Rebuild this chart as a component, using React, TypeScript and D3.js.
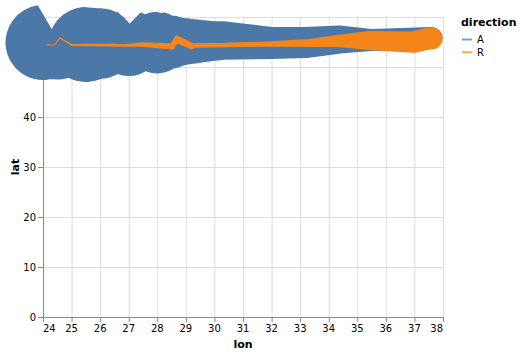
import React, { useRef, useEffect } from 'react';
import * as d3 from 'd3';

// Minard troop movements (lon, lat, survivors, direction, group)
const lonValues = [
  24.0, 24.5, 25.5, 26.0, 27.0, 28.0, 28.5, 29.0, 30.0, 30.3, 32.0, 33.2, 34.4, 35.5, 36.0, 37.6,
  37.6, 37.5, 37.0, 36.8, 35.4, 34.3, 33.3, 32.0, 30.4, 29.2, 28.5, 28.3, 27.5, 26.8, 26.4, 25.0, 24.4, 24.2, 24.1,
  24.0, 24.5, 25.5, 26.6, 27.4, 28.7, 29.2, 28.5, 28.3,
  24.0, 24.5, 24.6, 24.6, 24.2, 24.1,
];
const latValues = [
  54.9, 55.0, 54.5, 54.7, 54.8, 54.9, 55.0, 55.1, 55.2, 55.3, 54.8, 54.9, 55.5, 55.4, 55.5, 55.8,
  55.7, 55.7, 55.0, 55.0, 55.3, 55.2, 54.8, 54.6, 54.4, 54.3, 54.2, 54.3, 54.5, 54.3, 54.4, 54.4, 54.4, 54.4, 54.4,
  55.1, 55.2, 54.7, 55.7, 55.6, 55.5, 54.2, 54.1, 54.2,
  55.2, 55.3, 55.8, 55.8, 54.4, 54.4,
];
const survivorValues = [
  340000, 340000, 340000, 320000, 300000, 280000, 240000, 210000, 180000, 175000, 145000, 140000, 127100, 100000, 100000, 100000,
  100000, 98000, 97000, 96000, 87000, 55000, 37000, 24000, 20000, 20000, 20000, 20000, 20000, 12000, 14000, 8000, 4000, 4000, 4000,
  60000, 60000, 60000, 40000, 33000, 33000, 30000, 30000, 28000,
  22000, 22000, 6000, 6000, 6000, 6000,
];
const directionValues = [
  'A', 'A', 'A', 'A', 'A', 'A', 'A', 'A', 'A', 'A', 'A', 'A', 'A', 'A', 'A', 'A',
  'R', 'R', 'R', 'R', 'R', 'R', 'R', 'R', 'R', 'R', 'R', 'R', 'R', 'R', 'R', 'R', 'R', 'R', 'R',
  'A', 'A', 'A', 'A', 'A', 'R', 'R', 'R', 'R',
  'A', 'A', 'A', 'R', 'R', 'R',
];
const groupValues = [
  1, 1, 1, 1, 1, 1, 1, 1, 1, 1, 1, 1, 1, 1, 1, 1,
  1, 1, 1, 1, 1, 1, 1, 1, 1, 1, 1, 1, 1, 1, 1, 1, 1, 1, 1,
  2, 2, 2, 2, 2, 2, 2, 2, 2,
  3, 3, 3, 3, 3, 3,
];
const directions = ['A', 'R'];
const colors = ['#4c78a8', '#f58518'];

// same path as vega's trail mark
function trailPath(pts: { x: number; y: number; w: number }[]) {
  const p = d3.path();
  let x1 = 0, y1 = 0, r1 = 0;
  pts.forEach((pt, i) => {
    const r2 = pt.w / 2;
    if (i > 0) {
      let ux = y1 - pt.y, uy = pt.x - x1;
      if (ux || uy) {
        const ud = Math.hypot(ux, uy);
        ux /= ud;
        uy /= ud;
        const rx = ux * r1, ry = uy * r1, t = Math.atan2(uy, ux);
        p.moveTo(x1 - rx, y1 - ry);
        p.lineTo(pt.x - ux * r2, pt.y - uy * r2);
        p.arc(pt.x, pt.y, r2, t - Math.PI, t);
        p.lineTo(x1 + rx, y1 + ry);
        p.arc(x1, y1, r1, t, t + Math.PI);
      } else {
        p.moveTo(pt.x + r2, pt.y);
        p.arc(pt.x, pt.y, r2, 0, 2 * Math.PI);
      }
      p.closePath();
    }
    x1 = pt.x;
    y1 = pt.y;
    r1 = r2;
  });
  return p.toString();
}

const App: React.FC = () => {
  const svgRef = useRef<SVGSVGElement | null>(null);

  useEffect(() => {
    const width = 400, height = 300;
    const marginLeft = 43, marginTop = 17;
    const font = 'DejaVu Sans, sans-serif';
    const svg = d3.select(svgRef.current);
    svg.selectAll('*').remove();

    const g = svg.append('g').attr('transform', `translate(${marginLeft},${marginTop})`);

    const x = d3.scaleLinear().domain([24, 38]).range([0, width]);
    const y = d3.scaleLinear().domain([0, 60]).range([height, 0]);
    const size = d3.scaleLinear().domain([0, 340000]).range([0, 75]);

    const xTicks = d3.range(24, 39, 1);
    const yTicks = d3.range(0, 61, 10);

    // grid
    g.append('g').selectAll('line').data(xTicks).join('line')
      .attr('x1', d => x(d) + 0.5).attr('x2', d => x(d) + 0.5)
      .attr('y1', 0).attr('y2', height)
      .attr('stroke', '#ddd');
    g.append('g').selectAll('line').data(yTicks).join('line')
      .attr('x1', 0).attr('x2', width)
      .attr('y1', d => y(d) + 0.5).attr('y2', d => y(d) + 0.5)
      .attr('stroke', '#ddd');

    // x axis
    const xa = g.append('g').attr('transform', `translate(0,${height})`);
    xa.append('line').attr('x1', 0.5).attr('x2', width + 0.5).attr('y1', 0.5).attr('y2', 0.5).attr('stroke', '#888');
    xa.selectAll('line.tick').data(xTicks).join('line').attr('class', 'tick')
      .attr('x1', d => x(d) + 0.5).attr('x2', d => x(d) + 0.5)
      .attr('y1', 0).attr('y2', 5).attr('stroke', '#888');
    xa.selectAll('text').data(xTicks).join('text')
      .attr('x', d => x(d))
      .attr('y', 15)
      .attr('text-anchor', (d, i) => (i === 0 ? 'start' : i === xTicks.length - 1 ? 'end' : 'middle'))
      .attr('font-family', font).attr('font-size', 10).attr('fill', '#000')
      .text(d => d);
    xa.append('text').attr('x', width / 2).attr('y', 31)
      .attr('text-anchor', 'middle').attr('font-family', font).attr('font-size', 11).attr('font-weight', 'bold')
      .text('lon');

    // y axis
    const ya = g.append('g');
    ya.append('line').attr('x1', 0.5).attr('x2', 0.5).attr('y1', 0).attr('y2', height + 0.5).attr('stroke', '#888');
    ya.selectAll('line.tick').data(yTicks).join('line').attr('class', 'tick')
      .attr('x1', -5).attr('x2', 0)
      .attr('y1', d => y(d) + 0.5).attr('y2', d => y(d) + 0.5).attr('stroke', '#888');
    ya.selectAll('text').data(yTicks).join('text')
      .attr('x', -7).attr('y', d => y(d) + 3.5)
      .attr('text-anchor', 'end')
      .attr('font-family', font).attr('font-size', 10).attr('fill', '#000')
      .text(d => d);
    ya.append('text')
      .attr('transform', `translate(-24,${height / 2}) rotate(-90)`)
      .attr('text-anchor', 'middle').attr('font-family', font).attr('font-size', 11).attr('font-weight', 'bold')
      .text('lat');

    // trails, points ordered by lon
    directions.forEach((dir, di) => {
      const idx = d3.range(lonValues.length).filter(i => directionValues[i] === dir);
      idx.sort((a, b) => lonValues[a] - lonValues[b] || groupValues[b] - groupValues[a]);
      const pts = idx.map(i => ({ x: x(lonValues[i]), y: y(latValues[i]), w: size(survivorValues[i]) }));
      g.append('path').attr('d', trailPath(pts)).attr('fill', colors[di]);
    });

    // legend
    const lg = svg.append('g').attr('transform', `translate(${marginLeft + width + 18},${marginTop})`);
    lg.append('text').attr('x', 0).attr('y', 9)
      .attr('font-family', font).attr('font-size', 11).attr('font-weight', 'bold')
      .text('direction');
    directions.forEach((dir, di) => {
      const row = lg.append('g').attr('transform', `translate(0,${22.5 + di * 12.8})`);
      row.append('line').attr('x1', 1).attr('x2', 11).attr('y1', 0).attr('y2', 0)
        .attr('stroke', colors[di]).attr('stroke-width', 2).attr('stroke-opacity', 0.7);
      row.append('text').attr('x', 16).attr('y', 3.5)
        .attr('font-family', font).attr('font-size', 10).attr('fill', '#000')
        .text(dir);
    });
  }, []);

  return (
    <svg ref={svgRef} width={522} height={354} style={{ position: 'absolute', left: 0, top: 0 }}></svg>
  );
};

export default App;
